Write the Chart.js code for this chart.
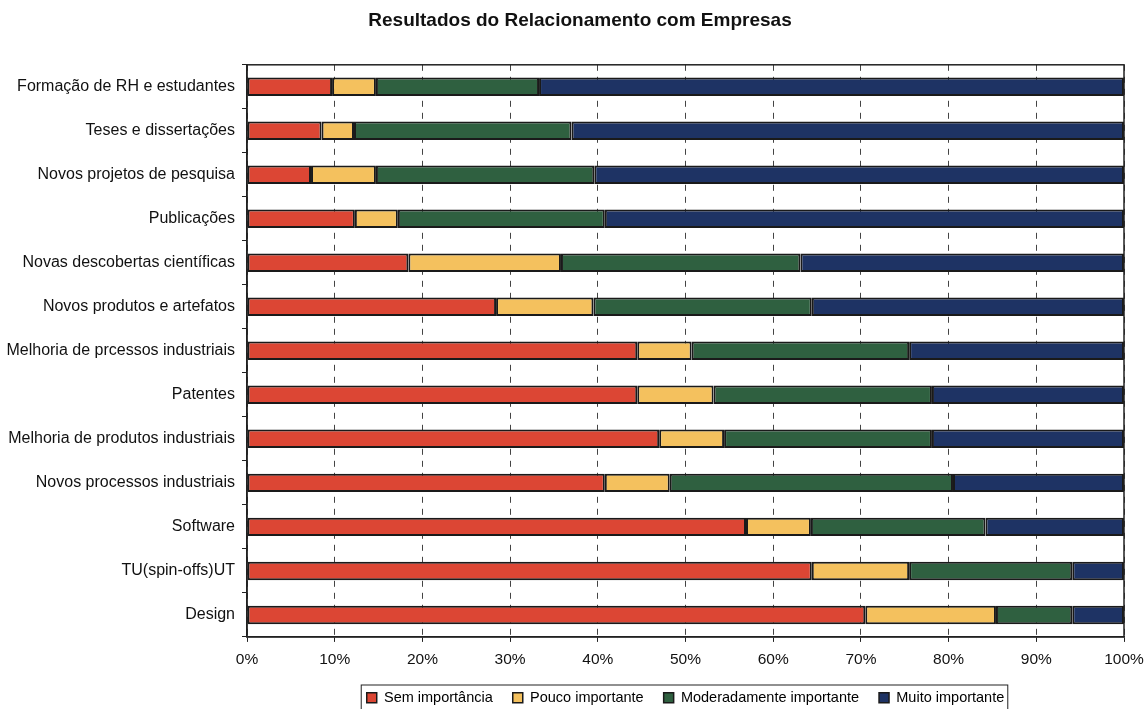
<!DOCTYPE html>
<html>
<head>
<meta charset="utf-8">
<script src="https://cdn.jsdelivr.net/npm/chart.js@4"></script>
<style>
  html, body { margin: 0; padding: 0; background: #fff; }
  #wrap { width: 1147px; height: 709px; }
</style>
</head>
<body>
<div id="wrap"><canvas id="chartEmpresas"></canvas></div>
<script>
// categorias (de cima para baixo)
const categorias = [
  'Formação de RH e estudantes',
  'Teses e dissertações',
  'Novos projetos de pesquisa',
  'Publicações',
  'Novas descobertas científicas',
  'Novos produtos e artefatos',
  'Melhoria de prcessos industriais',
  'Patentes',
  'Melhoria de produtos industriais',
  'Novos processos industriais',
  'Software',
  'TU(spin-offs)UT',
  'Design'
];
// percentuais
const semImportancia = [9.7, 8.5, 7.3, 12.3, 18.4, 28.4, 44.5, 44.5, 47.0, 40.8, 56.9, 64.4, 70.5];
const poucoImportante = [5.0, 3.7, 7.4, 4.9, 17.4, 11.1, 6.2, 8.7, 7.4, 7.4, 7.4, 11.1, 14.9];
const moderadamente = [18.6, 24.8, 24.9, 23.6, 27.3, 24.9, 24.8, 24.9, 23.7, 32.3, 19.9, 18.6, 8.7];
const muitoImportante = [66.7, 63.0, 60.4, 59.2, 36.9, 35.6, 24.5, 21.9, 21.9, 19.5, 15.8, 5.9, 5.9];
const ticksX = [0, 10, 20, 30, 40, 50, 60, 70, 80, 90, 100];

const fonte = "'Liberation Sans', Arial, sans-serif";

// moldura em volta da area do grafico e da legenda
const moldura = {
  id: 'moldura',
  afterDraw(chart) {
    const c = chart.ctx;
    const a = chart.chartArea;
    c.save();
    c.setLineDash([]);
    c.strokeStyle = '#222';
    c.lineWidth = 1.5;
    c.strokeRect(a.left, a.top, a.right - a.left, a.bottom - a.top);
    const lg = chart.legend;
    if (lg && lg.legendHitBoxes.length) {
      const first = lg.legendHitBoxes[0];
      const last = lg.legendHitBoxes[lg.legendHitBoxes.length - 1];
      c.lineWidth = 1;
      c.strokeRect(first.left - 5.5, first.top - 5.5, last.left + last.width - first.left + 9, first.height + 11);
    }
    c.restore();
  }
};

function serie(nome, dados, cor) {
  return {
    label: nome,
    data: dados,
    backgroundColor: cor,
    borderColor: '#1a1a1a',
    borderWidth: 2,
    borderSkipped: false,
    barPercentage: 0.42,
    categoryPercentage: 1.0
  };
}

const ctx = document.getElementById('chartEmpresas').getContext('2d');
const myChart = new Chart(ctx, {
  type: 'bar',
  data: {
    labels: categorias,
    datasets: [
      serie('Sem importância', semImportancia, '#DC4634'),
      serie('Pouco importante', poucoImportante, '#F4C15E'),
      serie('Moderadamente importante', moderadamente, '#2F6040'),
      serie('Muito importante', muitoImportante, '#1E3364')
    ]
  },
  plugins: [moldura],
  options: {
    indexAxis: 'y',
    responsive: true,
    maintainAspectRatio: false,
    animation: false,
    layout: { padding: { left: 0, right: -13, top: 4, bottom: -6 } },
    plugins: {
      title: {
        display: true,
        text: 'Resultados do Relacionamento com Empresas',
        color: '#111',
        font: { family: fonte, size: 19, weight: 'bold' },
        padding: { top: 5, bottom: 33 }
      },
      legend: {
        position: 'bottom',
        fullSize: false,
        labels: {
          color: '#111',
          font: { family: fonte, size: 14.5 },
          boxWidth: 10,
          boxHeight: 10,
          padding: 20,
          generateLabels(chart) {
            return chart.data.datasets.map((ds, i) => ({
              text: ds.label,
              fillStyle: ds.backgroundColor,
              strokeStyle: '#1a1a1a',
              lineWidth: 1.5,
              hidden: false,
              datasetIndex: i
            }));
          }
        }
      },
      tooltip: { enabled: false }
    },
    scales: {
      x: {
        stacked: true,
        min: 0,
        max: 100,
        afterBuildTicks(scale) { scale.ticks = ticksX.map(v => ({ value: v })); },
        afterFit(scale) {
          scale.height = scale.height - 8;
          scale.paddingLeft = 0;
          scale.paddingRight = 23;
        },
        ticks: {
          color: '#111',
          font: { family: fonte, size: 15.5 },
          padding: 9,
          callback: v => v + '%'
        },
        grid: {
          color: '#444',
          lineWidth: 1,
          tickBorderDash: [],
          tickLength: 5,
          tickColor: '#222',
          drawTicks: true
        },
        border: { color: '#222', width: 1.5, dash: [6, 6] }
      },
      y: {
        stacked: true,
        afterFit(scale) { scale.width = 247; },
        ticks: {
          color: '#111',
          font: { family: fonte, size: 16 },
          padding: 7
        },
        grid: {
          offset: true,
          drawOnChartArea: false,
          drawTicks: true,
          tickLength: 5,
          color: '#222'
        },
        border: { color: '#222', width: 1.5 }
      }
    }
  }
});
</script>
</body>
</html>
